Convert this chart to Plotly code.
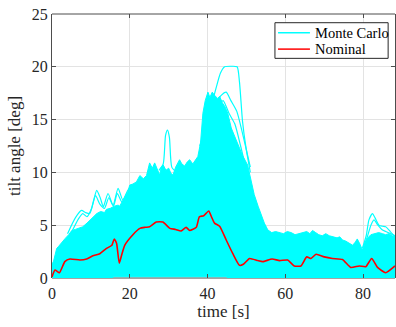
import plotly.graph_objects as go

# ---------------- data ----------------
# Monte Carlo bundle: upper envelope of the dense body of runs
mc_upper_t = [0, 0.4, 0.8, 1.2, 1.7, 2.5, 3.4, 4.3, 5.1, 6.0, 7.0, 7.9, 9.0, 10.0,
              11.0, 11.5, 12.5, 13.5, 14.0, 15.0, 16.0, 17.0, 17.4, 18.5, 19.5,
              20.0, 20.8, 21.7, 22.6, 23.5, 24.3, 25.1, 25.8, 26.4, 27.0, 27.7,
              28.1, 28.6, 29.3, 30.0, 30.6, 31.1, 31.8, 32.8, 33.4, 34.1, 34.8,
              35.4, 36.2, 37.0, 37.5, 38.2, 38.8, 39.4, 40.1, 40.6, 41.2, 41.8,
              42.6, 43.1, 43.8, 44.5, 45.2, 46.1, 47.0, 48.0, 49.0, 50.3, 51.2,
              52.0, 53.0, 53.8, 54.6, 55.5, 56.5, 57.5, 58.5, 59.5, 60.5, 61.5,
              62.5, 63.6, 64.5, 65.5, 66.3, 67.0, 67.8, 68.6, 69.5, 70.4, 71.3,
              72.3, 73.3, 74.0, 74.7, 75.5, 76.3, 77.3, 78.0, 78.5, 79.2, 79.8,
              80.5, 81.2, 82.0, 83.0, 84.0, 85.0, 85.8, 86.6, 87.4, 88.2]
mc_upper_v = [1.3, 1.6, 2.2, 2.8, 3.0, 3.4, 3.75, 4.1, 4.5, 4.6, 4.7, 4.85, 5.2, 5.6,
              5.9, 6.1, 6.3, 6.2, 6.5, 6.6, 6.8, 6.9, 6.8, 7.6, 8.2,
              8.8, 8.9, 9.1, 9.7, 9.4, 9.7, 10.9, 10.4, 10.9, 10.3, 9.75,
              10.5, 10.7, 10.2, 10.4, 9.9, 9.75, 10.5, 11.2, 10.8, 10.6, 11.0,
              11.2, 10.8, 11.3, 11.5, 12.8, 15.6, 16.8, 17.6, 17.1, 17.6, 17.3,
              17.0, 17.2, 16.6, 16.2, 15.6, 14.2, 13.4, 12.5, 11.6, 10.7, 9.2,
              7.9, 6.8, 6.0, 5.2, 4.55, 4.3, 4.4, 4.3, 4.2, 4.4, 4.3,
              4.1, 4.2, 4.3, 4.4, 4.2, 4.5, 4.3, 4.1, 4.0, 4.2, 4.0,
              3.9, 3.8, 3.9, 3.6, 3.5, 3.3, 3.1, 3.4, 3.7, 3.2, 2.65,
              3.3, 3.8, 4.1, 4.2, 4.3, 4.2, 4.1, 4.2, 4.0, 3.9]
# lower envelope of the bundle
mc_lower_t = [0, 15.6, 15.7, 45.0, 45.1, 88.2]
mc_lower_v = [0, 0, 0.12, 0.12, 0, 0]

# individual Monte Carlo runs that stand out above the bundle
run_a_t = [4.0, 6.0, 7.6, 8.6, 9.7, 10.6, 11.5, 12.4, 13.2, 14.4, 15.7, 17.0, 18.2, 19.5, 21.0]
run_a_v = [4.2, 5.7, 6.4, 6.2, 6.1, 7.2, 8.3, 7.6, 6.75, 8.0, 6.9, 8.5, 7.4, 8.3, 8.8]
run_b_t = [5.0, 6.8, 7.9, 9.0, 10.2, 11.2, 12.3, 13.5, 14.6, 15.8, 16.8, 18.0, 19.5]
run_b_v = [4.3, 5.6, 6.1, 5.8, 6.6, 7.8, 7.0, 6.6, 7.6, 6.8, 8.0, 7.2, 8.0]
run_c_t = [27.5, 28.6, 29.2, 29.7, 30.2, 30.8, 32.0]
run_c_v = [10.2, 10.8, 13.5, 14.0, 13.3, 10.5, 10.0]
run_d_t = [38.0, 40.0, 42.2, 43.3, 44.4, 46.0, 47.6, 48.2, 49.0, 49.9, 51.0]
run_d_v = [12.5, 15.0, 18.0, 19.4, 20.0, 20.05, 20.0, 18.6, 14.8, 12.3, 10.0]
run_e_t = [40.5, 42.0, 43.5, 44.8, 46.0, 47.5, 49.5, 51.0]
run_e_v = [15.5, 16.5, 17.3, 17.6, 16.8, 15.8, 12.9, 10.5]
run_f_t = [40.0, 41.5, 43.0, 44.0, 45.5, 47.0, 48.5, 50.0]
run_f_v = [15.8, 17.0, 16.5, 16.8, 15.6, 14.6, 12.5, 10.2]
run_g_t = [79.8, 80.8, 81.5, 82.4, 83.2, 84.1, 85.0, 85.8, 87.0, 88.2]
run_g_v = [2.8, 4.0, 5.5, 6.1, 5.6, 5.0, 4.9, 4.85, 4.4, 3.9]
run_h_t = [80.0, 81.0, 82.0, 82.8, 83.8, 84.8, 85.8, 87.0, 88.2]
run_h_v = [2.9, 3.8, 5.0, 5.5, 5.0, 4.6, 4.4, 4.2, 4.0]

# nominal run
nom_t = [0, 0.77, 1.9, 3.3, 4.6, 7.2, 8.9, 10.5, 12.3, 14.0, 15.4, 16.0, 16.6,
         17.3, 18.0, 18.7, 20.8, 22.6, 24.0, 25.1, 26.8, 28.5, 30.3, 31.8, 33.2,
         34.5, 35.4, 37.1, 37.9, 39.0, 40.3, 41.0, 41.8, 43.1, 44.8, 46.5, 48.2,
         49.2, 50.8, 52.9, 54.2, 56.6, 58.5, 60.6, 62.3, 64.0, 65.5, 66.6, 67.9,
         70.0, 72.1, 74.7, 76.8, 79.0, 80.7, 82.2, 83.7, 85.8, 88.2]
nom_v = [0.1, 0.75, 0.5, 1.55, 1.8, 1.7, 1.8, 2.1, 2.3, 2.8, 3.1, 3.7, 3.3,
         1.4, 2.3, 3.1, 4.1, 4.7, 4.8, 4.85, 5.3, 5.3, 4.7, 4.6, 4.45,
         4.8, 4.5, 4.8, 5.8, 5.9, 6.35, 5.8, 5.2, 4.9, 3.6, 2.3, 1.2,
         1.3, 1.85, 1.65, 1.55, 1.8, 1.65, 1.7, 1.14, 1.14, 2.0, 1.85, 2.25,
         2.0, 1.85, 1.75, 1.0, 1.14, 1.07, 1.85, 1.0, 0.5, 1.14]

x_ticks = [0, 20, 40, 60, 80]
y_ticks = [0, 5, 10, 15, 20, 25]
legend_names = ["Monte Carlo", "Nominal"]

CYAN = "#00FFFF"
RED = "#FF0000"
FONT = "Liberation Serif"
TXT = "#262626"
AX = "#4d4d4d"

fig = go.Figure()

# dense body of Monte Carlo runs as a filled band
fig.add_trace(go.Scatter(
    x=mc_upper_t + mc_lower_t[::-1],
    y=mc_upper_v + mc_lower_v[::-1],
    fill="toself", fillcolor=CYAN, mode="lines",
    line=dict(color=CYAN, width=1),
    showlegend=False, hoverinfo="skip"))

for rt, rv in [(run_a_t, run_a_v), (run_b_t, run_b_v), (run_c_t, run_c_v),
               (run_d_t, run_d_v), (run_e_t, run_e_v), (run_f_t, run_f_v),
               (run_g_t, run_g_v), (run_h_t, run_h_v)]:
    fig.add_trace(go.Scatter(
        x=rt, y=rv, mode="lines",
        line=dict(color=CYAN, width=1.2, shape="spline", smoothing=0.6),
        showlegend=False, hoverinfo="skip"))

fig.add_trace(go.Scatter(
    x=nom_t, y=nom_v, mode="lines", showlegend=False,
    line=dict(color=RED, width=1.6, shape="spline", smoothing=0.5)))

axis_common = dict(
    ticks="inside", ticklen=4, tickcolor=AX,
    showgrid=True, gridcolor="#e3e3e3", gridwidth=1,
    zeroline=False,
    tickfont=dict(family=FONT, size=16, color=TXT),
)

fig.update_xaxes(range=[0, 88.2], tickvals=x_ticks, showline=False, mirror="allticks",
                 ticklabelstandoff=4,
                 title=dict(text="time [s]", font=dict(family=FONT, size=17, color=TXT),
                            standoff=3),
                 **axis_common)
fig.update_yaxes(range=[0, 25], tickvals=y_ticks, showline=True, linecolor=AX,
                 linewidth=1, mirror="allticks",
                 title=dict(text="tilt angle [deg]", font=dict(family=FONT, size=17, color=TXT),
                            standoff=6),
                 **axis_common)

shapes = [
    # bottom axis line (below the data, as in the reference)
    dict(type="line", xref="paper", yref="paper", x0=0, x1=1, y0=0, y1=0,
         line=dict(color=AX, width=1), layer="below"),
    # top box line
    dict(type="line", xref="paper", yref="paper", x0=0, x1=1, y0=1, y1=1,
         line=dict(color=AX, width=1), layer="above"),
    # legend box
    dict(type="rect", xref="paper", yref="paper", x0=0.650, x1=0.980,
         y0=0.832, y1=0.967, line=dict(color=TXT, width=1), fillcolor="white",
         layer="above"),
    dict(type="line", xref="paper", yref="paper", x0=0.659, x1=0.752,
         y0=0.929, y1=0.929, line=dict(color=CYAN, width=1.5), layer="above"),
    dict(type="line", xref="paper", yref="paper", x0=0.659, x1=0.752,
         y0=0.867, y1=0.867, line=dict(color=RED, width=1.5), layer="above"),
]
annotations = [
    dict(xref="paper", yref="paper", x=0.760, y=yy, text=name, showarrow=False,
         xanchor="left", yanchor="middle",
         font=dict(family=FONT, size=14.5, color="black"))
    for name, yy in zip(legend_names, [0.929, 0.867])
]

fig.update_layout(
    width=396, height=327,
    margin=dict(l=52, r=1, t=14, b=49),
    paper_bgcolor="white", plot_bgcolor="white",
    font=dict(family=FONT, color=TXT),
    showlegend=False,
    shapes=shapes, annotations=annotations,
)

fig.write_html("out.html")
